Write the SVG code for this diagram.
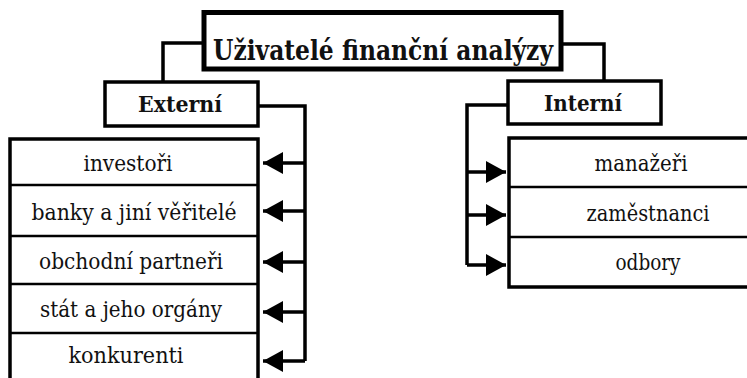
<svg xmlns="http://www.w3.org/2000/svg" width="747" height="378" viewBox="0 0 747 378">
<style>
.box{fill:#fff;stroke:#000}
.t{fill:#111;text-anchor:middle;font-family:"DejaVu Serif","Liberation Serif",serif}
.b{font-weight:bold}
.ln{fill:none;stroke:#000;stroke-width:3.5}
.dv{stroke:#000;stroke-width:2.5}
</style>
<defs>
<marker id="ah" markerUnits="userSpaceOnUse" markerWidth="22" markerHeight="24" refX="20" refY="12" orient="auto">
<path d="M0,1 L20,12 L0,23 Z" fill="#000"/>
</marker>
</defs>
<rect width="747" height="378" fill="#fff"/>
<g id="connectors">
<polyline class="ln" points="204,43 163,43 163,82"/>
<polyline class="ln" points="561,44 604,44 604,82"/>
<polyline class="ln" points="258,106 305,106 305,361"/>
<polyline class="ln" points="508,105 467,105 467,265"/>
<line class="ln" x1="305" y1="163" x2="263" y2="163" marker-end="url(#ah)"/>
<line class="ln" x1="305" y1="211" x2="263" y2="211" marker-end="url(#ah)"/>
<line class="ln" x1="305" y1="262" x2="263" y2="262" marker-end="url(#ah)"/>
<line class="ln" x1="305" y1="312" x2="263" y2="312" marker-end="url(#ah)"/>
<line class="ln" x1="305" y1="361" x2="263" y2="361" marker-end="url(#ah)"/>
<line class="ln" x1="467" y1="172" x2="506" y2="172" marker-end="url(#ah)"/>
<line class="ln" x1="467" y1="215" x2="506" y2="215" marker-end="url(#ah)"/>
<line class="ln" x1="467" y1="265" x2="506" y2="265" marker-end="url(#ah)"/>
</g>
<g id="root">
<rect class="box" x="204" y="12.5" width="357" height="56.5" stroke-width="5"/>
<text class="t b" x="383" y="60" font-size="27" textLength="340" lengthAdjust="spacingAndGlyphs">Uživatelé finanční analýzy</text>
</g>
<g id="externi">
<rect class="box" x="105" y="82" width="153" height="44" stroke-width="3.5"/>
<text class="t b" x="180" y="112" font-size="23" textLength="84" lengthAdjust="spacingAndGlyphs">Externí</text>
</g>
<g id="interni">
<rect class="box" x="508" y="81" width="153" height="43" stroke-width="3.5"/>
<text class="t b" x="583" y="111" font-size="23" textLength="78" lengthAdjust="spacingAndGlyphs">Interní</text>
</g>
<g id="ext-list">
<rect class="box" x="10" y="139" width="248" height="260" stroke-width="3.5"/>
<line class="dv" x1="10" y1="185" x2="258" y2="185"/>
<line class="dv" x1="10" y1="236" x2="258" y2="236"/>
<line class="dv" x1="10" y1="284" x2="258" y2="284"/>
<line class="dv" x1="10" y1="333" x2="258" y2="333"/>
</g>
<g id="investori"><text class="t" x="128" y="171" font-size="22" textLength="89" lengthAdjust="spacingAndGlyphs">investoři</text></g>
<g id="banky"><text class="t" x="134" y="220" font-size="22" textLength="205" lengthAdjust="spacingAndGlyphs">banky a jiní věřitelé</text></g>
<g id="partneri"><text class="t" x="131" y="269" font-size="22" textLength="184" lengthAdjust="spacingAndGlyphs">obchodní partneři</text></g>
<g id="stat"><text class="t" x="131" y="317" font-size="22" textLength="182" lengthAdjust="spacingAndGlyphs">stát a jeho orgány</text></g>
<g id="konkurenti"><text class="t" x="126" y="363" font-size="22" textLength="115" lengthAdjust="spacingAndGlyphs">konkurenti</text></g>
<g id="int-list">
<rect class="box" x="509" y="138" width="260" height="149" stroke-width="3.5"/>
<line class="dv" x1="509" y1="187" x2="769" y2="187"/>
<line class="dv" x1="509" y1="237" x2="769" y2="237"/>
</g>
<g id="manazeri"><text class="t" x="641" y="171" font-size="22" textLength="93" lengthAdjust="spacingAndGlyphs">manažeři</text></g>
<g id="zamestnanci"><text class="t" x="648" y="221" font-size="22" textLength="123" lengthAdjust="spacingAndGlyphs">zaměstnanci</text></g>
<g id="odbory"><text class="t" x="648" y="270" font-size="22" textLength="65" lengthAdjust="spacingAndGlyphs">odbory</text></g>
</svg>
